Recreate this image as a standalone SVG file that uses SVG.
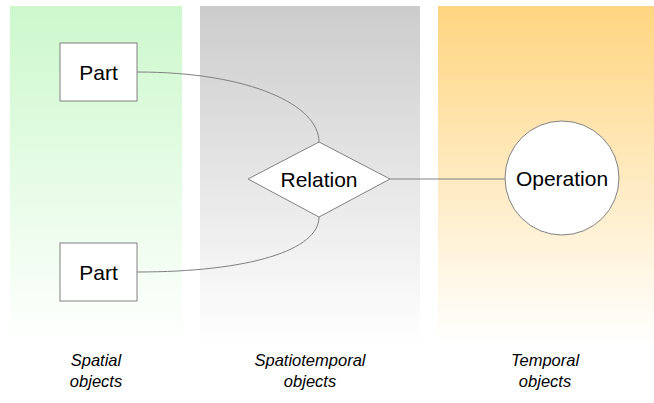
<svg xmlns="http://www.w3.org/2000/svg" width="654" height="403" viewBox="0 0 654 403">
<defs>
<linearGradient id="gGreen" x1="0" y1="0" x2="0" y2="1"><stop offset="0" stop-color="#ccf8cc"/><stop offset="1" stop-color="#ffffff"/></linearGradient>
<linearGradient id="gGray" x1="0" y1="0" x2="0" y2="1"><stop offset="0" stop-color="#cccccc"/><stop offset="1" stop-color="#ffffff"/></linearGradient>
<linearGradient id="gOrange" x1="0" y1="0" x2="0" y2="1"><stop offset="0" stop-color="#ffd580"/><stop offset="1" stop-color="#ffffff"/></linearGradient>
</defs>
<style>
.node{fill:#ffffff;stroke:#808080;stroke-width:1}
.edge{fill:none;stroke:#808080;stroke-width:1}
.lbl{font-family:"Liberation Sans",Arial,sans-serif;font-size:21px;fill:#000;text-anchor:middle}
.cap{font-family:"Liberation Sans",Arial,sans-serif;font-size:16.5px;font-style:italic;fill:#000;text-anchor:middle}
</style>
<rect width="654" height="403" fill="#ffffff"/>
<g id="lanes">
<rect x="10" y="6" width="172" height="338" fill="url(#gGreen)"/>
<rect x="200" y="6" width="220" height="338" fill="url(#gGray)"/>
<rect x="438" y="6" width="216" height="338" fill="url(#gOrange)"/>
</g>
<g id="connectors">
<path class="edge" d="M137,72 C250,72 319,105 319,142"/>
<path class="edge" d="M137,272 C250,272 319,250 319,217"/>
<path class="edge" d="M390,179 L505,179"/>
</g>
<g id="part1"><rect class="node" x="60" y="43" width="77" height="58"/><text class="lbl" x="98.5" y="80">Part</text></g>
<g id="part2"><rect class="node" x="60" y="243" width="77" height="58"/><text class="lbl" x="98.5" y="280">Part</text></g>
<g id="relation"><polygon class="node" points="248,179 319,142 390,179 319,217"/><text class="lbl" x="319" y="187">Relation</text></g>
<g id="operation"><circle class="node" cx="562" cy="178" r="57"/><text class="lbl" x="562" y="186">Operation</text></g>
<g id="captions">
<text class="cap" x="96" y="366">Spatial</text>
<text class="cap" x="96" y="387">objects</text>
<text class="cap" x="310" y="366">Spatiotemporal</text>
<text class="cap" x="310" y="387">objects</text>
<text class="cap" x="545" y="366">Temporal</text>
<text class="cap" x="545" y="387">objects</text>
</g>
</svg>
